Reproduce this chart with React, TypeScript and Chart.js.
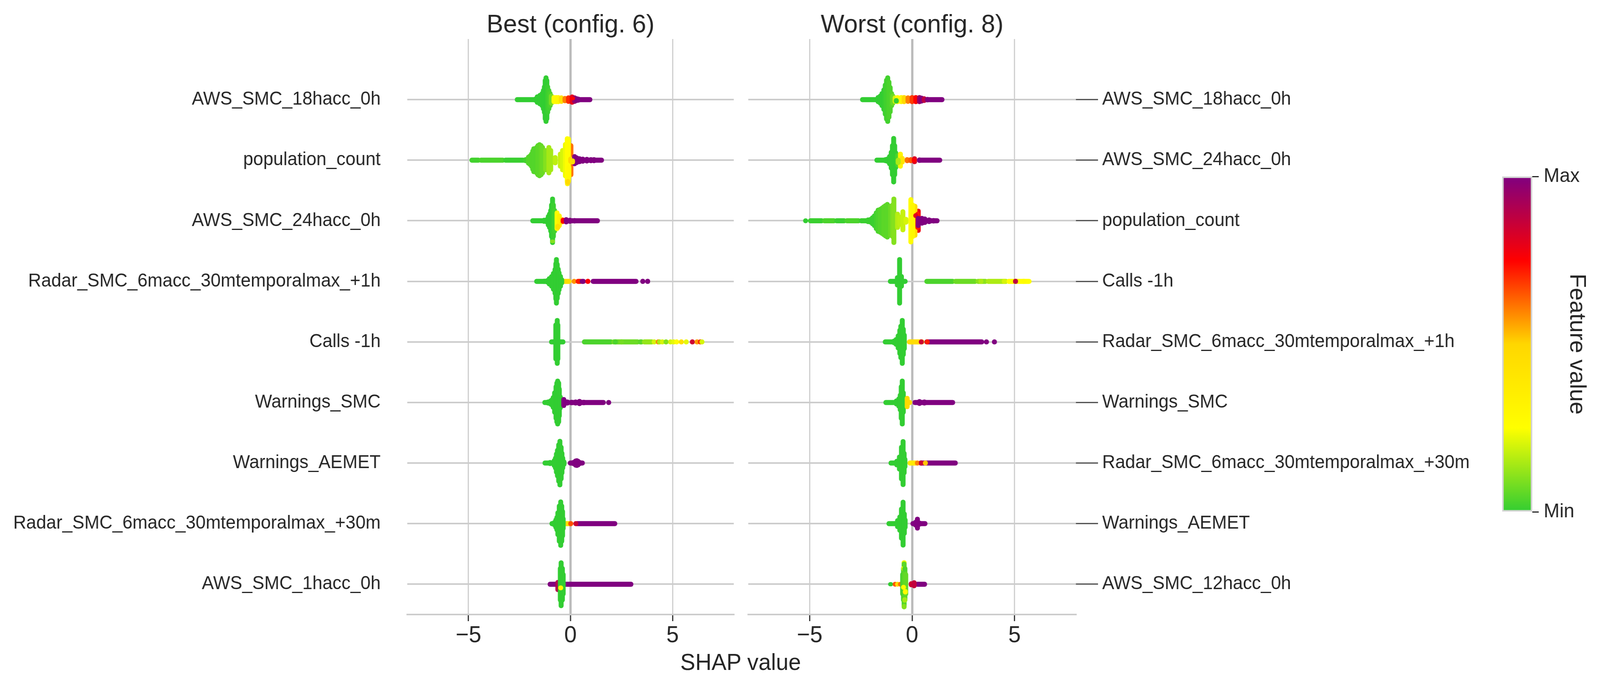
import React, { useEffect, useRef } from 'react';
import { Chart, registerables } from 'chart.js';

Chart.register(...registerables);

// one column of a swarm: [shap value, half height (in rows), feature value 0-1, optional row offset]
type Col = [number, number, number, number?];
// one run of dots along the row: [shap from, shap to, feature value 0-1]
type Run = [number, number, number];

const FONT = 'Liberation Sans';
const INK = '#262626';
const GRID = '#cccccc';
const PAGE_W = 4204;

const xTicks = [-5, 0, 5];
const rows = [8, 7, 6, 5, 4, 3, 2, 1, 0];
const toneStops: [number, string][] = [
  [0, '#32CD32'],
  [0.25, '#FFFF00'],
  [0.5, '#FFD700'],
  [0.75, '#FF0000'],
  [1, '#800080'],
];

const bestLabels = [
  'AWS_SMC_18hacc_0h',
  'population_count',
  'AWS_SMC_24hacc_0h',
  'Radar_SMC_6macc_30mtemporalmax_+1h',
  'Calls -1h',
  'Warnings_SMC',
  'Warnings_AEMET',
  'Radar_SMC_6macc_30mtemporalmax_+30m',
  'AWS_SMC_1hacc_0h',
];
const worstLabels = [
  'AWS_SMC_18hacc_0h',
  'AWS_SMC_24hacc_0h',
  'population_count',
  'Calls -1h',
  'Radar_SMC_6macc_30mtemporalmax_+1h',
  'Warnings_SMC',
  'Radar_SMC_6macc_30mtemporalmax_+30m',
  'Warnings_AEMET',
  'AWS_SMC_12hacc_0h',
];

// Best (config. 6)
const bestAws18Runs: Run[] = [[-2.73, -1.7, 0], [.3, 1.07, 1]];
const bestAws18: Col[] = [
  [-1.72, .05, 0], [-1.63, .086, 0], [-1.5, .11, 0], [-1.39, .14, 0], [-1.33, .19, 0], [-1.28, .25, 0], [-1.24, .355, 0], [-1.2, .4, 0],
  [-1.16, .355, 0], [-1.12, .25, .01], [-1.06, .19, .02], [-1, .14, .03],
  [-.94, .1, .08], [-.81, .075, .27], [-.7, .075, .29], [-.6, .075, .3], [-.45, .07, .45], [-.27, .06, .6], [-.1, .07, .7],
  [.08, .085, .8], [.2, .07, .95], [.3, .055, 1], [.38, .05, 1], [.1, .03, .75, .02],
];
const bestPopulationRuns: Run[] = [[-4.95, -4.4, .02], [-4.5, -3.2, .03], [-3.3, -2.2, .01], [.6, 1.64, 1]];
const bestPopulation: Col[] = [
  [-2.2, .05, .02], [-2.06, .09, .04], [-1.98, .11, .04], [-1.91, .14, .04], [-1.85, .19, .04], [-1.8, .23, .04], [-1.66, .25, .04], [-1.6, .28, .05], [-1.52, .297, .05],
  [-1.44, .28, .06], [-1.37, .25, .07], [-1.22, .2, .1], [-1.06, .25, .14], [-.97, .2, .14], [-.9, .07, .14], [-.75, .085, .17], [-.5, .14, .18], [-.39, .2, .2], [-.25, .3, .23],
  [.02, .28, .62], [-.1, .39, .27], [-.16, .395, .26], [-.15, .06, .3, -.37], [-.08, .12, .28, -.2], [-.13, .05, .48, -.36],
  [.01, .06, .48, .0], [.2, .1, 1], [.3, .08, 1], [.44, .065, 1], [.6, .058, 1], [.8, .055, 1], [1, .05, 1], [1.15, .05, 1], [.1, .05, .45, -.02],
];
const bestAws24Runs: Run[] = [[-1.97, -1.3, 0], [-.3, 1.44, 1]];
const bestAws24: Col[] = [
  [-1.3, .05, 0], [-1.19, .055, 0], [-1.09, .11, 0], [-1.03, .15, 0], [-.97, .21, 0], [-.93, .3, 0], [-.88, .4, 0], [-.84, .3, .01], [-.78, .21, .02],
  [-.66, .17, .27], [-.55, .12, .33], [-.42, .06, .46], [-.36, .05, .75], [-.21, .06, 1], [-.03, .05, 1],
  [.2, .045, 1], [-.88, .03, .1, -.34], [-.62, .05, .45, -.1],
];
const bestRadar1hRuns: Run[] = [[-1.78, -1.2, 0], [-.41, .05, .46], [0, .3, .58], [.25, .6, .72], [.45, .75, 1], [.99, 3.33, 1]];
const bestRadar1h: Col[] = [
  [-1.28, .045, 0], [-1.15, .05, 0], [-1.04, .085, 0], [-.93, .118, 0], [-.84, .17, 0], [-.76, .236, 0], [-.72, .33, 0], [-.69, .4, 0],
  [-.65, .32, 0], [-.6, .24, 0], [-.56, .18, 0], [-.49, .12, 0], [-.43, .065, 0],
  [.85, .042, .75], [3.54, .042, 1], [3.78, .042, 1],
];
const bestCallsRuns: Run[] = [[-1.05, -.25, 0], [.56, 2.1, .03], [2, 3.4, .07], [3.3, 3.6, .05], [3.5, 4.1, .12]];
const bestCalls: Col[] = [
  [-.72, .32, 0], [-.65, .395, 0], [-.62, .32, 0],
  [2.2, .042, .03], [2.5, .042, .08], [4.1, .042, .2], [4.3, .042, .6], [4.36, .042, .15], [4.5, .042, .2], [4.68, .042, .1],
  [4.9, .042, .2], [5.05, .042, .22], [5.2, .042, .27], [5.43, .042, .45], [5.67, .042, .22], [5.97, .042, .85], [6.2, .042, .57],
  [6.36, .042, .7], [6.44, .042, .2],
];
const bestWarnSmcRuns: Run[] = [[-1.38, -.9, 0], [-.1, 1.73, 1]];
const bestWarnSmc: Col[] = [
  [-1.1, .05, 0], [-.98, .065, 0], [-.92, .08, 0], [-.85, .12, 0], [-.78, .2, 0], [-.71, .3, 0], [-.67, .36, 0], [-.63, .395, 0], [-.58, .36, 0],
  [-.55, .26, 0], [-.5, .13, 0], [-.33, .09, 1], [-.28, .06, 1], [-.15, .05, 1], [.05, .045, 1], [.25, .05, 1], [.44, .06, 1], [.65, .045, 1], [1.87, .042, 1],
];
const bestWarnAemetRuns: Run[] = [[-1.37, -.9, 0], [-.13, .7, 1]];
const bestWarnAemet: Col[] = [
  [-1, .05, 0], [-.86, .05, 0], [-.8, .08, 0], [-.74, .12, 0], [-.69, .19, 0], [-.64, .25, 0], [-.58, .34, 0], [-.52, .4, 0], [-.46, .3, 0],
  [-.42, .2, 0], [-.38, .12, 0], [-.32, .06, 0], [.14, .05, 1], [.25, .075, 1], [.31, .08, 1], [.37, .07, 1], [.44, .05, 1],
];
const bestRadar30Runs: Run[] = [[-1.03, -.7, 0], [-.33, .13, .45], [.2, 2.29, 1]];
const bestRadar30: Col[] = [
  [-.79, .06, 0], [-.72, .1, 0], [-.67, .14, 0], [-.62, .22, 0], [-.55, .33, 0], [-.48, .4, 0], [-.43, .33, 0], [-.39, .24, 0], [-.36, .12, 0],
  [.01, .042, .66], [.26, .042, .85],
];
const bestAws1Runs: Run[] = [[-1.12, 3.08, 1]];
const bestAws1: Col[] = [
  [-.62, .1, .9, -.03], [-.5, .3, 0], [-.46, .395, 0], [-.4, .3, 0], [-.36, .2, 0], [-.48, .04, .27, -.06],
];

// Worst (config. 8)
const worstAws18Runs: Run[] = [[-2.54, -1.6, 0], [.6, 1.58, 1]];
const worstAws18: Col[] = [
  [-1.66, .075, 0], [-1.55, .1, 0], [-1.47, .14, 0], [-1.38, .2, 0], [-1.31, .28, .01], [-1.25, .36, .02], [-1.19, .4, .02], [-1.13, .33, .03], [-1.07, .24, .03], [-1, .14, .04],
  [-.94, .1, .07], [-.83, .07, .2],
  [-.71, .075, .27], [-.53, .075, .3], [-.39, .075, .48], [-.2, .07, .6], [0, .075, .68], [.18, .075, .75], [.36, .075, .95],
  [.46, .065, 1], [.59, .055, .88], [.75, .045, 1], [-.77, .045, 0, -.02],
];
const worstAws24Runs: Run[] = [[-1.84, -1.2, 0], [.3, 1.47, 1]];
const worstAws24: Col[] = [
  [-1.3, .05, 0], [-1.2, .06, 0], [-1.1, .1, 0], [-1.02, .17, 0], [-.96, .28, 0], [-.9, .4, 0], [-.85, .28, 0], [-.8, .16, 0],
  [-.7, .12, .03], [-.57, .14, .32], [-.48, .07, .42], [-.24, .05, .62], [-.06, .05, .65], [.12, .065, .82], [.36, .045, 1], [.1, .035, .75], [-.68, .06, .15, -.02],
];
const worstPopulationRuns: Run[] = [[-5.08, -4.3, .01], [-4.4, -3.7, .03], [-3.8, -3.2, .01], [-3.3, -2.5, .03], [-2.6, -1.9, .01], [.7, 1.34, 1]];
const worstPopulation: Col[] = [
  [-5.2, .04, 0], [-2.15, .055, .01], [-2.02, .065, .01], [-1.93, .09, .01], [-1.84, .12, .01], [-1.75, .17, .02], [-1.66, .215, .03], [-1.55, .23, .04], [-1.46, .25, .04], [-1.38, .27, .05],
  [-1.3, .29, .05], [-1.21, .31, .05], [-1.05, .28, .07], [-.95, .3, .09], [-.89, .4, .1], [-.71, .15, .16], [-.6, .1, .17], [-.45, .19, .18], [-.3, .065, .2],
  [.3, .2, .78], [.14, .28, .47], [.28, .15, .72], [-.06, .39, .27], [.03, .3, .3], [.18, .04, .8, .085], [.48, .08, 1], [.62, .07, 1], [.83, .055, 1], [1.05, .045, 1],
  [.3, .1, 1, -.02],
];
const worstCallsRuns: Run[] = [[-1.18, -.22, 0], [.6, 2.1, .03], [2, 3.2, .07], [3.1, 3.7, .11], [3.6, 4.7, .15], [4.6, 5.83, .25]];
const worstCalls: Col[] = [
  [-.72, .1, 0], [-.61, .4, 0], [-.52, .12, 0], [3.36, .042, .15], [4.5, .042, .2], [5.05, .042, .88], [5.45, .042, .27],
];
const worstRadar1hRuns: Run[] = [[-1.43, -.9, 0], [-.25, .6, .46], [.6, 3.52, 1]];
const worstRadar1h: Col[] = [
  [-.89, .053, 0], [-.78, .08, 0], [-.68, .14, 0], [-.6, .23, 0], [-.55, .3, 0], [-.48, .395, 0], [-.43, .25, 0], [-.38, .15, 0],
  [.45, .042, .85], [.74, .042, .72], [3.63, .042, 1], [4.02, .042, 1],
];
const worstWarnSmcRuns: Run[] = [[-1.4, -.8, 0], [.02, 2.1, 1]];
const worstWarnSmc: Col[] = [
  [-.77, .065, 0], [-.65, .1, 0], [-.58, .16, 0], [-.53, .3, 0], [-.48, .395, 0], [-.43, .2, 0],
  [-.24, .11, .48], [-.12, .043, .48], [.36, .056, 1], [.6, .05, 1],
];
const worstRadar30Runs: Run[] = [[-1.15, -.75, 0], [-.22, .3, .38], [.3, 2.23, 1]];
const worstRadar30: Col[] = [
  [-.75, .07, 0], [-.62, .14, 0], [-.52, .3, 0], [-.44, .395, 0], [-.39, .2, 0], [-.35, .1, 0],
  [.26, .042, .6], [.45, .042, .85], [.65, .042, .52],
];
const worstWarnAemetRuns: Run[] = [[-1.25, -.7, 0], [-.08, .75, 1]];
const worstWarnAemet: Col[] = [
  [-.71, .09, 0], [-.6, .15, 0], [-.52, .28, 0], [-.44, .395, 0], [-.38, .2, 0], [-.34, .1, 0],
  [.18, .066, 1], [.26, .115, 1], [.36, .05, 1],
];
const worstAws12Runs: Run[] = [[.15, .73, 1]];
const worstAws12: Col[] = [
  [-1.05, .035, 0], [-.83, .04, .65], [-.71, .04, .47], [-.57, .04, .62], [-.46, .2, .02], [-.42, .3, .03], [-.39, .395, .04], [-.35, .3, .05], [-.31, .2, .06],
  [-.04, .05, .85], [.1, .066, .87], [-.4, .045, .27, .26], [-.36, .045, .03, .25], [-.39, .045, .27, .35], [-.39, .045, .05, .33],
  [-.33, .045, .27, -.125], [-.36, .045, .14, -.26], [-.42, .04, .27, -.05], [-.39, .045, .1, -.37],
];

const bestRuns = [bestAws18Runs, bestPopulationRuns, bestAws24Runs, bestRadar1hRuns, bestCallsRuns, bestWarnSmcRuns, bestWarnAemetRuns, bestRadar30Runs, bestAws1Runs];
const bestSeries = [bestAws18, bestPopulation, bestAws24, bestRadar1h, bestCalls, bestWarnSmc, bestWarnAemet, bestRadar30, bestAws1];
const worstRuns = [worstAws18Runs, worstAws24Runs, worstPopulationRuns, worstCallsRuns, worstRadar1hRuns, worstWarnSmcRuns, worstRadar30Runs, worstWarnAemetRuns, worstAws12Runs];
const worstSeries = [worstAws18, worstAws24, worstPopulation, worstCalls, worstRadar1h, worstWarnSmc, worstRadar30, worstWarnAemet, worstAws12];

const hexToRgb = (hex: string) => [1, 3, 5].map(i => parseInt(hex.slice(i, i + 2), 16));

const toneColor = (tone: number) => {
  let i = 0;
  while (i < toneStops.length - 2 && tone > toneStops[i + 1][0]) i++;
  const [t0, c0] = toneStops[i];
  const [t1, c1] = toneStops[i + 1];
  const a = hexToRgb(c0);
  const b = hexToRgb(c1);
  const f = (tone - t0) / (t1 - t0);
  return `rgb(${a.map((v, k) => Math.round(v + (b[k] - v) * f)).join(',')})`;
};

interface PanelProps {
  title: string;
  labels: string[];
  series: Col[][];
  runs: Run[][];
  left: number;
  width: number;
  side: 'left' | 'right';
}

const markStyle = { barThickness: 13, borderRadius: 6, borderSkipped: false, inflateAmount: 0, grouped: false };

const SwarmPanel: React.FC<PanelProps> = ({ title, labels, series, runs, left, width, side }) => {
  const ref = useRef<HTMLCanvasElement>(null);

  useEffect(() => {
    if (!ref.current) return;
    const runSets = runs.map((list, i) => ({
      ...markStyle,
      label: `${labels[i]} runs`,
      indexAxis: 'y',
      order: 1,
      data: list.map(([x0, x1]) => ({ x: [x0, x1], y: rows[i] })),
      backgroundColor: list.map(r => toneColor(r[2])),
    }));
    const colSets = series.map((cols, i) => ({
      ...markStyle,
      label: labels[i],
      order: 0,
      data: cols.map(([x, h, , dy]) => ({ x, y: [rows[i] + (dy ?? 0) - h, rows[i] + (dy ?? 0) + h] })),
      backgroundColor: cols.map(c => toneColor(c[2])),
    }));
    const chart = new Chart(ref.current, {
      type: 'bar',
      data: { datasets: [...colSets, ...runSets] as any },
      options: {
        responsive: false,
        animation: false,
        devicePixelRatio: 1,
        layout: { padding: side === 'left' ? { right: 22 } : { left: 16 } },
        plugins: {
          legend: { display: false },
          tooltip: { enabled: false },
          title: {
            display: true,
            text: title,
            fullSize: false,
            color: INK,
            font: { family: FONT, size: 65.6, weight: 'normal', lineHeight: 1 },
            padding: { top: 32, bottom: 2.4 },
          } as any,
        },
        scales: {
          x: {
            type: 'linear',
            offset: false,
            min: -8,
            max: 8,
            afterBuildTicks: (s: any) => { s.ticks = xTicks.map(value => ({ value })); },
            afterFit: (s: any) => { s.height = 178; },
            ticks: {
              color: INK,
              padding: 2,
              font: { family: FONT, size: 59 },
              maxRotation: 0,
              callback: (v: any) => String(v).replace('-', '\u2212'),
            },
            grid: {
              offset: false,
              color: (c: any) => (c.tick?.value === 0 ? '#bbbbbb' : GRID),
              lineWidth: (c: any) => (c.tick?.value === 0 ? 6 : 3),
              tickColor: INK,
              tickWidth: 3,
              tickLength: 17,
            },
            border: { display: true, color: GRID, width: 4 },
          },
          y: {
            type: 'linear',
            position: side,
            offset: false,
            min: -0.5,
            max: 9,
            afterBuildTicks: (s: any) => { s.ticks = rows.map(value => ({ value })); },
            afterFit: (s: any) => { s.width = side === 'left' ? 1070 : 1073; },
            ticks: {
              color: INK,
              padding: side === 'left' ? 70 : 11,
              autoSkip: false,
              font: { family: FONT, size: 47.4 },
              callback: (v: any) => labels[rows.indexOf(v)],
            },
            grid: {
              offset: false,
              color: GRID,
              lineWidth: 4,
              drawTicks: side === 'right',
              tickColor: '#444444',
              tickWidth: 3,
              tickLength: 58,
            },
            border: { display: false },
          },
        },
      },
    });
    return () => chart.destroy();
  }, [title, labels, series, runs, side]);

  return <canvas ref={ref} width={width} height={1752} style={{ position: 'absolute', left, top: 0 }} />;
};

const ColorBar: React.FC = () => {
  const ref = useRef<HTMLCanvasElement>(null);

  useEffect(() => {
    if (!ref.current) return;
    const chart = new Chart(ref.current, {
      type: 'bar',
      data: {
        labels: ['Feature value'],
        datasets: [{
          data: [1],
          backgroundColor: (c: any) => {
            const area = c.chart.chartArea;
            if (!area) return toneStops[0][1];
            const g = c.chart.ctx.createLinearGradient(0, area.bottom, 0, area.top);
            toneStops.forEach(([t, col]) => g.addColorStop(t, col));
            return g;
          },
          borderColor: '#d2d2d2',
          borderWidth: 4,
          borderSkipped: false,
          inflateAmount: 0,
          barPercentage: 1,
          categoryPercentage: 1,
        }] as any,
      },
      options: {
        responsive: false,
        animation: false,
        devicePixelRatio: 1,
        layout: { padding: { left: 99, top: 452, bottom: 441 } },
        plugins: { legend: { display: false }, tooltip: { enabled: false } },
        scales: {
          x: { display: false },
          y: {
            position: 'right',
            min: 0,
            max: 1,
            afterBuildTicks: (s: any) => { s.ticks = [{ value: 0 }, { value: 1 }]; },
            afterFit: (s: any) => { s.width = 178; },
            ticks: {
              color: INK,
              padding: 13,
              font: { family: FONT, size: 50 },
              callback: (v: any) => (v === 1 ? 'Max' : 'Min'),
            },
            grid: { drawOnChartArea: false, tickColor: INK, tickWidth: 3, tickLength: 17 },
            border: { display: false },
            title: {
              display: true,
              text: 'Feature value',
              color: INK,
              font: { family: FONT, size: 59, lineHeight: 1.2 },
              padding: { top: 26, bottom: 0 },
            },
          },
        },
      },
    });
    return () => chart.destroy();
  }, []);

  return <canvas ref={ref} width={356} height={1752} style={{ position: 'absolute', left: 3848, top: 0 }} />;
};

export default function App() {
  // the browser window can come out narrower than the page, so squeeze the page to fit it
  const fit = Math.min(1, window.innerWidth / PAGE_W);
  return (
    <div style={{
      position: 'absolute', left: 0, top: 0, width: PAGE_W, height: 1752, background: '#fff',
      overflow: 'hidden', transform: `scaleX(${fit})`, transformOrigin: 'left top',
    }}>
      <SwarmPanel title="Best (config. 6)" labels={bestLabels} series={bestSeries} runs={bestRuns} left={0} width={1950} side="left" />
      <SwarmPanel title="Worst (config. 8)" labels={worstLabels} series={worstSeries} runs={worstRuns} left={1950} width={1950} side="right" />
      <ColorBar />
      <div style={{
        position: 'absolute', left: 1946, top: 1696, transform: 'translate(-50%, -50%)',
        font: `59px "${FONT}"`, color: INK, whiteSpace: 'nowrap',
      }}>
        SHAP value
      </div>
    </div>
  );
}
